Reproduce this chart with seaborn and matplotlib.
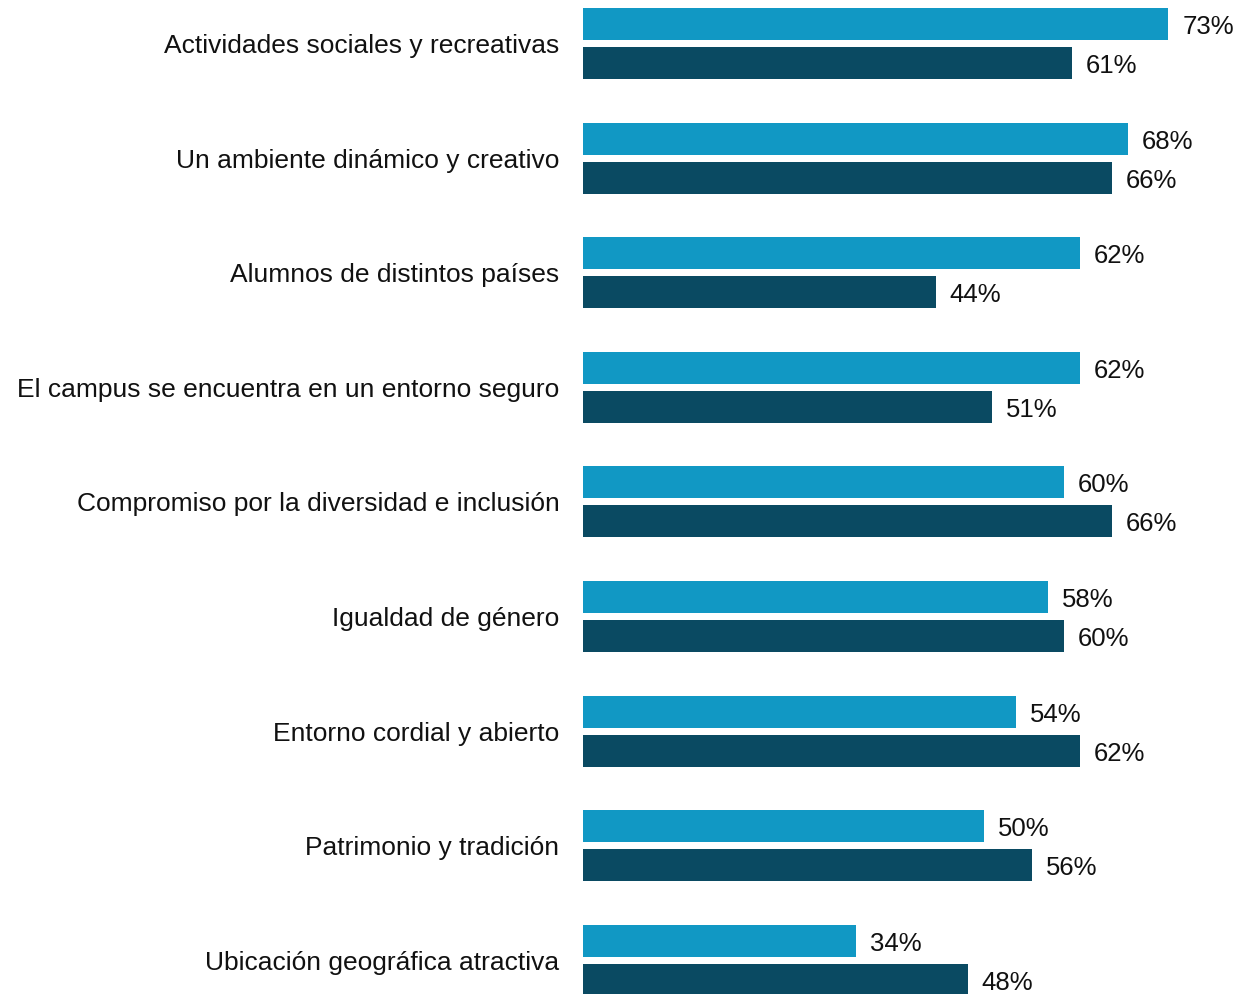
import matplotlib
matplotlib.use("Agg")
import matplotlib.pyplot as plt
import seaborn as sns
import pandas as pd

categories = [
    "Actividades sociales y recreativas",
    "Un ambiente dinámico y creativo",
    "Alumnos de distintos países",
    "El campus se encuentra en un entorno seguro",
    "Compromiso por la diversidad e inclusión",
    "Igualdad de género",
    "Entorno cordial y abierto",
    "Patrimonio y tradición",
    "Ubicación geográfica atractiva",
]
series_a = [73, 68, 62, 62, 60, 58, 54, 50, 34]
series_b = [61, 66, 44, 51, 66, 60, 62, 56, 48]
series_names = ["A", "B"]
colors = ["#1198c4", "#0a4a62"]

df = pd.DataFrame({
    "cat": categories * 2,
    "val": series_a + series_b,
    "serie": [series_names[0]] * len(categories) + [series_names[1]] * len(categories),
})

sns.set_theme(style="white")
plt.rcParams["font.family"] = ["Liberation Sans", "DejaVu Sans"]

fig = plt.figure(figsize=(12.36, 9.94), dpi=100)
ax = fig.add_axes([583 / 1236, 0, 1 - 583 / 1236, 1])

sns.barplot(data=df, y="cat", x="val", hue="serie", order=categories,
            hue_order=series_names, palette=colors, orient="h",
            width=0.68, gap=0.176, legend=False, ax=ax, saturation=1,
            errorbar=None, linewidth=0)

for cont in ax.containers:
    texts = ax.bar_label(cont, labels=[f"{v:.0f}%" for v in cont.datavalues],
                         padding=10, fontsize=18.5, color="#111111")
    for t in texts:
        t.xyann = (10, -2.2)

ax.set_xlim(0, 653 / 8.02)
ax.set_ylim(8 + (994 - 960.3) / 114.6, -43.5 / 114.6)
ax.set_xlabel("")
ax.set_ylabel("")
ax.set_xticks([])
ax.tick_params(axis="y", length=0, pad=17, labelsize=19, labelcolor="#111111")
for s in ax.spines.values():
    s.set_visible(False)

fig.savefig("out.png", dpi=100)
